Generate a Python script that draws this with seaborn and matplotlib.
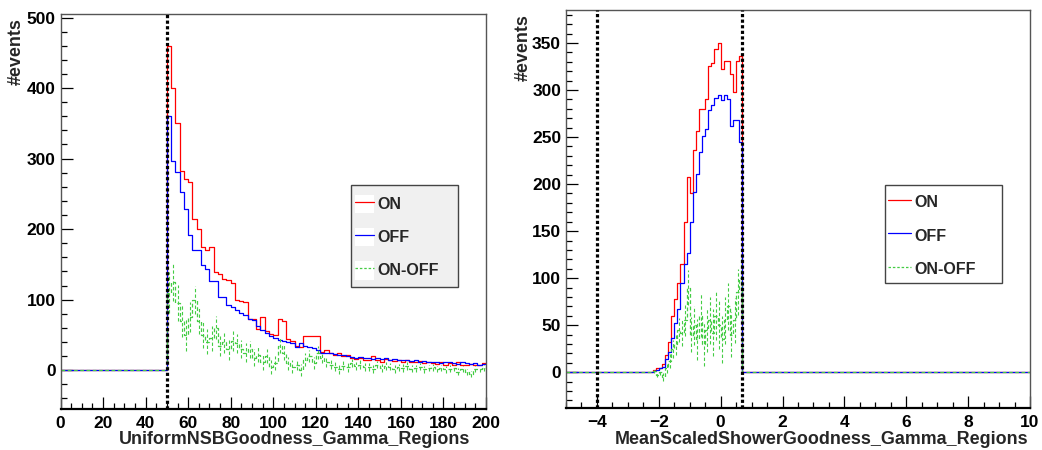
import numpy as np
import matplotlib
matplotlib.use("Agg")
import matplotlib.pyplot as plt
import seaborn as sns
from matplotlib.ticker import MultipleLocator
from matplotlib.lines import Line2D
from matplotlib.patches import Patch, Rectangle
from matplotlib.legend_handler import HandlerTuple

# ---------------- data ----------------
# Left panel: UniformNSBGoodness_Gamma_Regions, bins of width 2 on [0, 200]
left_range = (0.0, 200.0)
left_bin_width = 2.0
left_first_bin = 50.0
left_on = [460, 400, 351, 283, 271, 267, 214, 200, 175, 170,
           175, 139, 137, 130, 128, 124, 99, 98, 97, 73,
           73, 59, 75, 55, 52, 50, 72, 70, 44, 42,
           35, 33, 48, 48, 48, 48, 26, 28, 25, 22,
           24, 20, 22, 18, 16, 18, 15, 14, 20, 14,
           12, 16, 14, 13, 15, 12, 14, 12, 11, 13,
           10, 11, 10, 9, 11, 8, 10, 8, 11, 8,
           7, 9, 7, 8, 10]
left_off = [360, 296, 281, 253, 228, 191, 171, 171, 149, 144,
            126, 126, 104, 104, 92, 90, 85, 81, 78, 73,
            71, 62, 57, 53, 49, 46, 43, 42, 40, 38,
            33, 39, 34, 33, 31, 28, 25, 25, 24, 23,
            21, 21, 20, 19, 18, 19, 17, 18, 16, 17,
            16, 18, 15, 16, 14, 14, 15, 13, 14, 12,
            13, 12, 11, 12, 10, 11, 12, 10, 9, 11,
            10, 9, 10, 8, 9]
left_diff = [110, 125, 95, 70, 50, 75, 100, 70, 50, 40,
             45, 60, 35, 40, 30, 42, 38, 30, 25, 30,
             18, 22, 12, 20, 5, 10, 35, 25, 10, 5,
             8, 0, 15, 20, 10, 25, 18, 12, 8, 5,
             2, 6, 4, 10, 6, 8, 4, 5, 2, 8,
             3, 6, 5, 2, 4, 3, 6, 2, 3, 5,
             1, 3, 4, 2, 3, 1, 2, 3, -2, 2,
             -3, -6, 2, 1, 3]
left_cuts = [50.0]

# Right panel: MeanScaledShowerGoodness_Gamma_Regions, bins of width 0.1 on [-5, 10]
right_range = (-5.0, 10.0)
right_bin_width = 0.1
right_first_bin = -2.2
right_on = [2, 4, 5, 9, 18, 32, 60, 78, 95, 115,
            160, 208, 190, 236, 256, 280, 280, 290, 326, 329,
            344, 350, 322, 331, 331, 317, 298, 331, 336]
right_off = [1, 2, 4, 6, 14, 22, 36, 52, 67, 95,
             115, 127, 160, 192, 211, 234, 251, 258, 279, 284,
             291, 295, 289, 295, 290, 262, 268, 268, 245]
right_diff = [1, -3, 0, -5, 5, 12, 25, 30, 45, 42,
              55, 90, 40, 50, 35, 60, 30, 45, 55, 42,
              60, 50, 35, 55, 70, 40, 55, 85, 100]
right_cuts = [-4.0, 0.7]

legend_labels = ["ON", "OFF", "ON-OFF"]
col_on, col_off, col_diff = "#ff0000", "#0000ff", "#44cc44"

# ---------------- style ----------------
sns.set_theme(style="white")
plt.rcParams["font.family"] = ["Liberation Sans", "DejaVu Sans"]
plt.rcParams["font.weight"] = "bold"
plt.rcParams["axes.labelweight"] = "bold"

TICK_FS = 12.5
LABEL_FS = 12.9
LEG_FS = 11.5

W, H = 1042, 450
fig = plt.figure(figsize=(W / 100, H / 100), dpi=100)
fig.patch.set_facecolor("white")


def px_axes(x0, y0, x1, y1):
    return fig.add_axes([x0 / W, 1 - y1 / H, (x1 - x0) / W, (y1 - y0) / H])


def full_hist(vals, rng, width, first):
    n = int(round((rng[1] - rng[0]) / width))
    edges = np.linspace(rng[0], rng[1], n + 1)
    full = np.zeros(n)
    i0 = int(round((first - rng[0]) / width))
    full[i0:i0 + len(vals)] = vals
    return edges, full, i0


def draw_panel(ax, on, off, diff, rng, width, first, cuts, ylim,
               xmaj, xmin, ymaj, ymin_, xlabel, xlab_pos, ylab_pos,
               box, leg_anchor, leg_face, leg_kw):
    e, f_on, i0 = full_hist(on, rng, width, first)
    _, f_off, _ = full_hist(off, rng, width, first)
    _, f_diff, _ = full_hist(diff, rng, width, first)
    for vals, col, ls, lw in [(f_on, col_on, "-", 0.9), (f_off, col_off, "-", 0.9),
                              (f_diff, col_diff, (0, (3, 2)), 0.9)]:
        sns.lineplot(x=e, y=np.append(vals, vals[-1]), ax=ax, color=col,
                     drawstyle="steps-post", linestyle=ls, linewidth=lw,
                     estimator=None, sort=False, errorbar=None)
    # error bars of ON-OFF
    centers = (e[:-1] + e[1:]) / 2
    sl = slice(i0, i0 + len(diff))
    err = np.sqrt(f_on[sl] + f_off[sl])
    eb = ax.errorbar(centers[sl], f_diff[sl], yerr=err, fmt="none",
                     ecolor=col_diff, elinewidth=0.8, capsize=0)
    for lc in eb.lines[2]:
        lc.set_linestyle((0, (3, 2)))
    for c in cuts:
        ax.axvline(c, color="black", linewidth=2.3, linestyle=(0, (1, 0.75)), zorder=5)

    ax.set_xlim(*rng)
    ax.set_ylim(*ylim)
    ax.xaxis.set_major_locator(MultipleLocator(xmaj))
    ax.xaxis.set_minor_locator(MultipleLocator(xmin))
    ax.yaxis.set_major_locator(MultipleLocator(ymaj))
    ax.yaxis.set_minor_locator(MultipleLocator(ymin_))
    ax.tick_params(which="both", direction="in", top=False, right=False,
                   bottom=True, left=True, colors="black", labelsize=TICK_FS, width=0.9)
    ax.tick_params(which="major", length=8.5)
    ax.tick_params(which="minor", length=4.3)
    ax.tick_params(axis="x", which="major", pad=5)
    ax.tick_params(axis="y", which="major", pad=3.5)
    for lab in ax.get_xticklabels() + ax.get_yticklabels():
        lab.set_fontweight("bold")
    for s in ["top", "right", "left"]:
        ax.spines[s].set_color("#555555")
        ax.spines[s].set_linewidth(1.0)
    ax.spines["bottom"].set_color("black")
    ax.spines["bottom"].set_linewidth(1.6)

    ax.set_xlabel(xlabel, fontsize=LABEL_FS, fontweight="bold", ha="right", va="center")
    ax.xaxis.set_label_coords(*xlab_pos)
    ax.set_ylabel("#events", fontsize=LABEL_FS, fontweight="bold", ha="right", va="center")
    ax.yaxis.set_label_coords(*ylab_pos)

    # legend box (exact pixel frame)
    bx0, by0, bx1, by1 = box
    fig.patches.append(Rectangle((bx0 / W, 1 - by1 / H), (bx1 - bx0) / W, (by1 - by0) / H,
                                 transform=fig.transFigure, facecolor=leg_face,
                                 edgecolor="#444444", linewidth=1.0, zorder=10))
    handles = [
        (Patch(facecolor="white", edgecolor="none"),
         Line2D([], [], color=c, linestyle=ls, linewidth=0.9))
        for c, ls in [(col_on, "-"), (col_off, "-"), (col_diff, (0, (2, 1.5)))]
    ]
    leg = fig.legend(handles, legend_labels, handler_map={tuple: HandlerTuple(ndivide=1)},
                     loc="upper left",
                     bbox_to_anchor=(leg_anchor[0] / W, 1 - leg_anchor[1] / H),
                     bbox_transform=fig.transFigure, frameon=False,
                     fontsize=LEG_FS, borderaxespad=0, borderpad=0, **leg_kw)
    leg.set_zorder(11)
    for t in leg.get_texts():
        t.set_fontweight("bold")
    return leg


ax1 = px_axes(60.5, 14, 486, 409)
draw_panel(ax1, left_on, left_off, left_diff, left_range, left_bin_width, left_first_bin,
           left_cuts, (-55, 505), 20, 5, 100, 20,
           "UniformNSBGoodness_Gamma_Regions", (0.962, -0.078), (-0.105, 0.99),
           (351, 185, 458, 287), (355, 194.5), "#f0f0f0",
           dict(handlelength=1.19, handleheight=1.45, handletextpad=0.19,
                labelspacing=0.88))

ax2 = px_axes(566, 10, 1030, 408)
draw_panel(ax2, right_on, right_off, right_diff, right_range, right_bin_width, right_first_bin,
           right_cuts, (-38, 385), 2, 0.5, 50, 10,
           "MeanScaledShowerGoodness_Gamma_Regions", (0.996, -0.080), (-0.093, 0.99),
           (885, 185, 1002, 283), (888, 192.5), "white",
           dict(handlelength=1.44, handleheight=1.45, handletextpad=0.19,
                labelspacing=0.9))

fig.savefig("out.png", dpi=100, facecolor="white")
